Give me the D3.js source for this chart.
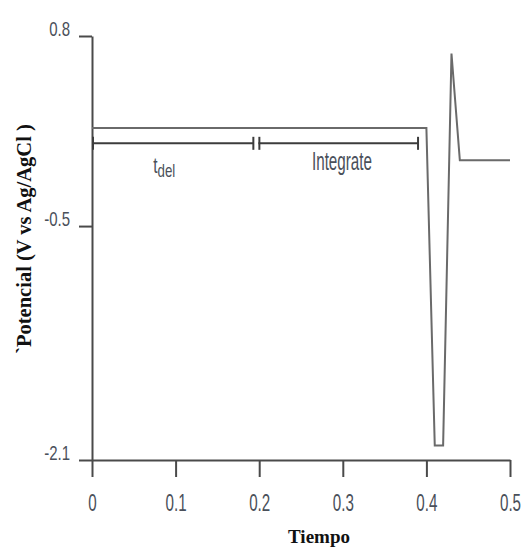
<!DOCTYPE html>
<html>
<head>
<meta charset="utf-8">
<script src="https://cdn.jsdelivr.net/npm/d3@7"></script>
<style>
  html, body { margin: 0; padding: 0; background: #fff; }
  svg { display: block; }
</style>
</head>
<body>
<svg id="chart" width="522" height="547"></svg>
<script>
// Pulse waveform: potential vs time
const timeValues = [0, 0.4, 0.41, 0.42, 0.43, 0.44, 0.5];
const potentialValues = [0.17, 0.17, -2.0, -2.0, 0.68, -0.05, -0.05];

const xTickValues = [0, 0.1, 0.2, 0.3, 0.4, 0.5];
const yTickValues = [0.8, -0.5, -2.1];

// Timing intervals marked under the waveform
const intervalLabels = ["t", "Integrate"];
const intervalSubscripts = ["del", ""];
const intervalStarts = [0, 0.199];
const intervalEnds = [0.193, 0.39];
const intervalLevel = 0.066;

const svg = d3.select("#chart");

const x = d3.scaleLinear().domain([0, 0.5]).range([92, 510]);
const y = d3.scaleLinear().domain([-2.1, 0.8]).range([460, 36]);

const axisColor = "#4a4a4a";
const labelColor = "#4a505a";
const sansFont = "'Liberation Sans', Arial, sans-serif";
const serifFont = "'Liberation Serif', 'Times New Roman', serif";

// Y axis
const yAxis = svg.append("g")
  .attr("transform", `translate(${x(0)},0)`)
  .call(d3.axisLeft(y).tickValues(yTickValues).tickSize(13).tickSizeOuter(0)
    .tickFormat(d => String(d)));
yAxis.select(".domain").attr("stroke", axisColor).attr("stroke-width", 2);
yAxis.selectAll(".tick line").attr("stroke", axisColor).attr("stroke-width", 2);
yAxis.selectAll(".tick text")
  .attr("x", null).attr("dy", null)
  .attr("text-anchor", "end")
  .attr("transform", "translate(-22,-1) scale(0.75,1)")
  .attr("fill", labelColor)
  .style("font-family", sansFont)
  .style("font-size", "20px");

// X axis
const xAxis = svg.append("g")
  .attr("transform", `translate(0,${y(-2.1)})`)
  .call(d3.axisBottom(x).tickValues(xTickValues).tickSize(17).tickSizeOuter(0)
    .tickFormat(d => String(d)));
xAxis.select(".domain").attr("stroke", axisColor).attr("stroke-width", 2);
xAxis.selectAll(".tick line").attr("stroke", axisColor).attr("stroke-width", 2);
xAxis.selectAll(".tick text")
  .attr("y", null).attr("dy", null)
  .attr("text-anchor", "middle")
  .attr("transform", "translate(0,51) scale(0.66,1)")
  .attr("fill", labelColor)
  .style("font-family", sansFont)
  .style("font-size", "23px");

// Waveform
const points = timeValues.map((t, i) => [t, potentialValues[i]]);
svg.append("path")
  .datum(points)
  .attr("fill", "none")
  .attr("stroke", "#6a6a6a")
  .attr("stroke-width", 2)
  .attr("stroke-linejoin", "miter")
  .attr("d", d3.line().x(d => x(d[0])).y(d => y(d[1])));

// Interval brackets
const capHalf = 6.5;
const yb = y(intervalLevel);
const intervals = intervalLabels.map((label, i) => ({
  label, sub: intervalSubscripts[i], start: intervalStarts[i], end: intervalEnds[i]
}));
const br = svg.append("g").attr("stroke", "#3c3c3c").attr("stroke-width", 2);
intervals.forEach(iv => {
  br.append("line").attr("x1", x(iv.start)).attr("x2", x(iv.end)).attr("y1", yb).attr("y2", yb);
  br.append("line").attr("x1", x(iv.start) + 1).attr("x2", x(iv.start) + 1)
    .attr("y1", yb - capHalf).attr("y2", yb + capHalf);
  br.append("line").attr("x1", x(iv.end)).attr("x2", x(iv.end))
    .attr("y1", yb - capHalf).attr("y2", yb + capHalf);
});

// Interval labels
const tdel = svg.append("text")
  .attr("transform", `translate(${x(0.0865)},173) scale(0.7,1)`)
  .attr("text-anchor", "middle")
  .attr("fill", labelColor)
  .style("font-family", sansFont)
  .style("font-size", "22px");
tdel.append("tspan").text(intervals[0].label);
tdel.append("tspan").attr("dy", 4).style("font-size", "19px").text(intervals[0].sub);

svg.append("text")
  .attr("transform", `translate(${x(0.299)},170) scale(0.585,1)`)
  .attr("text-anchor", "middle")
  .attr("fill", labelColor)
  .style("font-family", sansFont)
  .style("font-size", "26px")
  .text(intervals[1].label);

// Axis titles
svg.append("text")
  .attr("transform", "translate(31,239) rotate(-90)")
  .attr("text-anchor", "middle")
  .attr("fill", "#111")
  .style("font-family", serifFont)
  .style("font-weight", "bold")
  .style("font-size", "20.5px")
  .text("`Potencial (V vs Ag/AgCl )");

svg.append("text")
  .attr("x", 319)
  .attr("y", 543)
  .attr("text-anchor", "middle")
  .attr("fill", "#111")
  .style("font-family", serifFont)
  .style("font-weight", "bold")
  .style("font-size", "19px")
  .text("Tiempo");
</script>
</body>
</html>
